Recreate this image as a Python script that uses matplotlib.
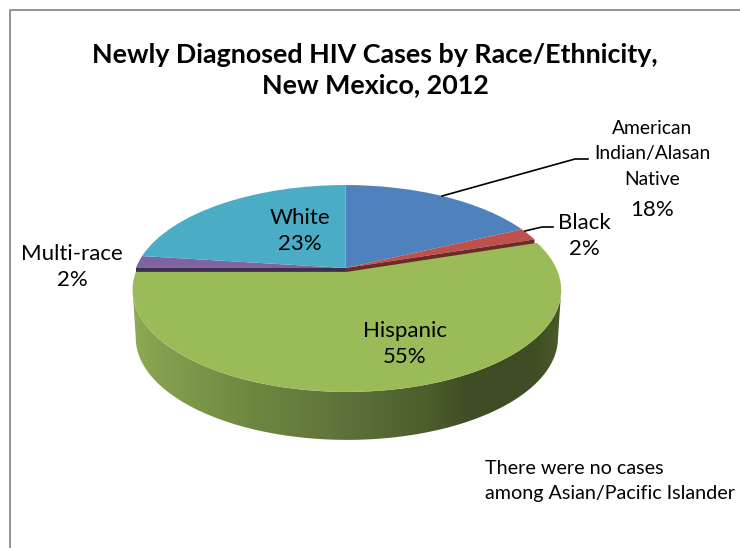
import matplotlib

matplotlib.use("Agg")
import matplotlib.pyplot as plt
import numpy as np
from matplotlib.colors import LinearSegmentedColormap
from matplotlib.patches import Polygon
from matplotlib.transforms import Transform

plt.rcParams["font.family"] = ["Lato", "DejaVu Sans"]

# Chart data
CATEGORIES = ["American Indian/Alasan Native", "Black", "Hispanic", "Multi-race", "White"]
PERCENTS = [18, 2, 55, 2, 23]
EXPLODE = [0, 0, 0.04, 0, 0]

TOP_COLORS = ["#4f81bd", "#c0504d", "#9bbb59", "#8064a2", "#4bacc6"]
TITLE = "Newly Diagnosed HIV Cases by Race/Ethnicity,\nNew Mexico, 2012"
NOTE = "There were no cases\namong Asian/Pacific Islander"

# Pixel geometry of the tilted pie
CX, CY = 345.5, 268
RX, RY = 209.5, 97.5
TILT = 0.175
WALL_DEPTH = 48
WALL_SHRINK = 0.985
CUT_DEPTH = 10


class Perspective(Transform):
    """Project the flat unit pie onto the tilted disc, in pixel coordinates."""

    input_dims = 2
    output_dims = 2
    is_affine = False

    def transform_non_affine(self, values):
        values = np.asarray(values, dtype=float)
        x, y = values[:, 0], values[:, 1]
        w = 1 + TILT * y
        return np.column_stack([CX + RX * x / w, CY - RY * y / w])


def rim_points(wedge, n=300):
    """Return projected rim points of a pie wedge."""
    theta = np.radians(np.linspace(wedge.theta1, wedge.theta2, n))
    x = wedge.center[0] + wedge.r * np.cos(theta)
    y = wedge.center[1] + wedge.r * np.sin(theta)
    return PERSPECTIVE.transform_non_affine(np.column_stack([x, y]))


def edge_wall(ax, wedge, theta, color):
    """Draw the cut face of a slice, seen through the gap around Hispanic."""
    t = np.radians(theta)
    tip = PERSPECTIVE.transform_non_affine(np.array([wedge.center]))[0]
    end = PERSPECTIVE.transform_non_affine(
        np.array([[wedge.r * np.cos(t), wedge.r * np.sin(t)]])
    )[0]
    ax.fill(
        [tip[0], end[0], end[0], tip[0]],
        [tip[1], end[1], end[1] + CUT_DEPTH, tip[1] + CUT_DEPTH],
        color=color,
        lw=0,
        zorder=3,
    )


PERSPECTIVE = Perspective()
WALL_CMAP = LinearSegmentedColormap.from_list(
    "wall",
    [
        (0.00, "#8fab56"),
        (0.05, "#86a14f"),
        (0.28, "#6e8740"),
        (0.49, "#5e733a"),
        (0.68, "#4c5f2c"),
        (0.79, "#3f4c24"),
        (0.93, "#3f4c24"),
        (1.00, "#4a5a2a"),
    ],
)

fig = plt.figure(figsize=(7.4, 5.48), dpi=100)
ax = fig.add_axes([0, 0, 1, 1])

wedges, _ = ax.pie(
    PERCENTS,
    colors=TOP_COLORS,
    explode=EXPLODE,
    startangle=90,
    counterclock=False,
    wedgeprops={"linewidth": 0},
)

for wedge in wedges:
    wedge.set_transform(PERSPECTIVE + ax.transData)
    wedge.set_zorder(2)
hispanic = wedges[CATEGORIES.index("Hispanic")]
hispanic.set_zorder(4)

# Side wall of the Hispanic slice, only the front part of the rim
rim = rim_points(hispanic)
i_left, i_right = rim[:, 0].argmin(), rim[:, 0].argmax()
front = rim[min(i_left, i_right):max(i_left, i_right) + 1]
x_min, x_max = front[:, 0].min(), front[:, 0].max()
front_low = np.column_stack([CX + (front[:, 0] - CX) * WALL_SHRINK, front[:, 1] + WALL_DEPTH])
outline = Polygon(np.vstack([front, front_low[::-1]]), closed=True, transform=ax.transData,
                  facecolor="none", edgecolor="none")
ax.add_patch(outline)
wall = ax.imshow(
    np.linspace(0, 1, 512)[None, :],
    cmap=WALL_CMAP,
    extent=[x_min, x_max, 460, 240],
    aspect="auto",
    interpolation="bilinear",
    zorder=1,
)
wall.set_clip_path(outline)

ax.set_aspect("auto")
ax.set_xlim(0, 740)
ax.set_ylim(548, 0)
ax.axis("off")

# Cut faces of the two thin slices
black = wedges[CATEGORIES.index("Black")]
multi = wedges[CATEGORIES.index("Multi-race")]
edge_wall(ax, black, black.theta1, "#6b2b29")
edge_wall(ax, multi, multi.theta2, "#3f2d52")

# Frame, open on the right and at the bottom
ax.plot([9.5, 9.5, 740], [548, 9.5, 9.5], color="#8a8a8a", lw=1.3, zorder=1)

# Leader lines
ax.plot([442, 575, 588], [196, 159, 159], color="black", lw=1.2, zorder=5)
ax.plot([525, 542, 553], [231, 227, 227], color="black", lw=1.2, zorder=5)

ax.text(375, 70, TITLE, ha="center", va="center", fontsize=19.4, fontweight="bold",
        linespacing=1.27, color="black")


def label(x, y, text, size=16.0, spacing=1.38):
    ax.text(x, y, text, ha="center", va="center", fontsize=size, color="black",
            linespacing=spacing, zorder=6)


label(652, 154, "American\nIndian/Alasan\nNative", 13.9, 1.63)
label(652, 210, f"{PERCENTS[0]}%", 16.0)
label(584, 236, f"{CATEGORIES[1]}\n{PERCENTS[1]}%")
label(405, 344, f"{CATEGORIES[2]}\n{PERCENTS[2]}%")
label(72, 267, f"{CATEGORIES[3]}\n{PERCENTS[3]}%")
label(300, 231, f"{CATEGORIES[4]}\n{PERCENTS[4]}%")

ax.text(485, 481, NOTE, ha="left", va="center", fontsize=14.2, color="black",
        linespacing=1.55, zorder=6)

fig.savefig("out.png", dpi=100)
